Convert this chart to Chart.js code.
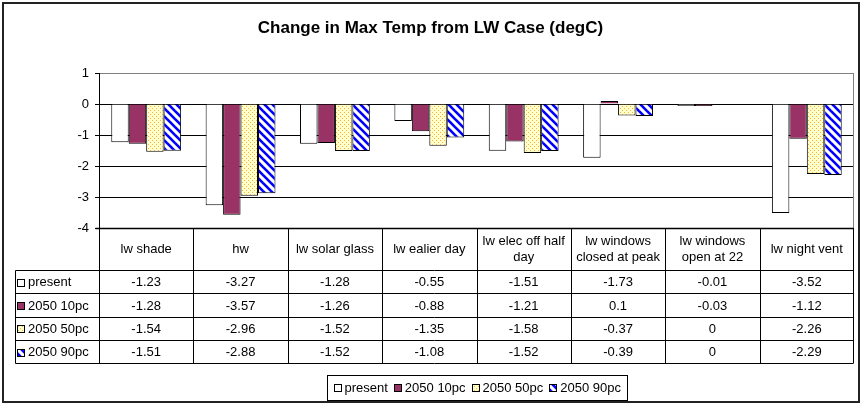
<!DOCTYPE html>
<html>
<head>
<meta charset="utf-8">
<script src="https://cdn.jsdelivr.net/npm/chart.js@4.4.1/dist/chart.umd.min.js"></script>
<style>
html, body { margin: 0; padding: 0; background: #fff; }
#wrap { width: 861px; height: 404px; }
</style>
</head>
<body>
<div id="wrap"><canvas id="maxTempChart" width="861" height="404"></canvas></div>
<script>
const categories = [['lw shade'], ['hw'], ['lw solar glass'], ['lw ealier day'], ['lw elec off half', 'day'], ['lw windows', 'closed at peak'], ['lw windows', 'open at 22'], ['lw night vent']];
const seriesNames = ['present', '2050 10pc', '2050 50pc', '2050 90pc'];
const present = [-1.23, -3.27, -1.28, -0.55, -1.51, -1.73, -0.01, -3.52];
const pc10 = [-1.28, -3.57, -1.26, -0.88, -1.21, 0.1, -0.03, -1.12];
const pc50 = [-1.54, -2.96, -1.52, -1.35, -1.58, -0.37, 0, -2.26];
const pc90 = [-1.51, -2.88, -1.52, -1.08, -1.52, -0.39, 0, -2.29];
const yMin = -4, yMax = 1;
const chartTitle = 'Change in Max Temp from LW Case (degC)';

const FONT = '"Liberation Sans", Arial, sans-serif';
Chart.defaults.font.family = FONT;
Chart.defaults.color = '#000';

// excel-ish fill patterns
function dotPattern() {
    const c = document.createElement('canvas');
    c.width = 4; c.height = 4;
    const g = c.getContext('2d');
    g.fillStyle = '#FFFFCC';
    g.fillRect(0, 0, 4, 4);
    g.fillStyle = '#FFB040';
    g.fillRect(0, 0, 1, 1);
    g.fillRect(2, 2, 1, 1);
    return g.createPattern(c, 'repeat');
}

function stripePattern() {
    const c = document.createElement('canvas');
    c.width = 8; c.height = 8;
    const g = c.getContext('2d');
    g.fillStyle = '#fff';
    g.fillRect(0, 0, 8, 8);
    g.strokeStyle = '#0000FF';
    g.lineWidth = 2.6;
    for (const k of [-8, 0, 8]) {
        g.beginPath();
        g.moveTo(k - 2, -2);
        g.lineTo(k + 10, 10);
        g.stroke();
    }
    return g.createPattern(c, 'repeat');
}

const fills = ['#FFFFFF', '#993366', dotPattern(), stripePattern()];
const seriesData = [present, pc10, pc50, pc90];

const ROW_HEAD = 42;
const ROW_H = 23.3;
const KEY_LEFT = 15;

function keySquare(g, x, y, fill) {
    g.fillStyle = fill;
    g.fillRect(x, y, 7, 7);
    g.strokeStyle = '#000';
    g.lineWidth = 1;
    g.strokeRect(x + 0.5, y + 0.5, 7, 7);
}

const tablePlugin = {
    id: 'excelTable',
    afterDraw(chart) {
        const g = chart.ctx;
        const area = chart.chartArea;
        const n = categories.length;
        const w = (area.right - area.left) / n;
        const top = area.bottom;
        const headBottom = top + ROW_HEAD;
        const bottom = headBottom + ROW_H * seriesNames.length;
        const L = Math.round(area.left) + 0.5;
        const R = Math.round(area.right) - 0.5;

        g.save();
        // plot right border (grey)
        g.strokeStyle = '#808080';
        g.lineWidth = 1;
        g.beginPath();
        g.moveTo(R, area.top);
        g.lineTo(R, bottom);
        g.stroke();

        // table grid
        g.strokeStyle = '#000';
        g.lineWidth = 1;
        g.beginPath();
        for (let i = 0; i <= n; i++) {
            const x = i === n ? R : Math.round(area.left + i * w) + 0.5;
            g.moveTo(x, top);
            g.lineTo(x, bottom);
        }
        for (let r = 0; r <= seriesNames.length; r++) {
            const y = Math.round(headBottom + r * ROW_H) + 0.5;
            g.moveTo(KEY_LEFT + 0.5, y);
            g.lineTo(R, y);
        }
        g.moveTo(KEY_LEFT + 0.5, Math.round(headBottom) + 0.5);
        g.lineTo(KEY_LEFT + 0.5, Math.round(bottom) + 0.5);
        g.stroke();
        // heavier line along the -4 axis / table top
        g.lineWidth = 1.5;
        g.beginPath();
        g.moveTo(L - 4, Math.round(top) + 0.5);
        g.lineTo(R, Math.round(top) + 0.5);
        g.stroke();

        // header labels
        g.fillStyle = '#000';
        g.font = '13px ' + FONT;
        g.textAlign = 'center';
        g.textBaseline = 'middle';
        const xs = chart.scales.x;
        categories.forEach((lines, i) => {
            const cx = xs.getPixelForValue(i);
            const lh = 16;
            const y0 = top + ROW_HEAD / 2 - (lines.length - 1) * lh / 2;
            lines.forEach((t, j) => g.fillText(t, cx, y0 + j * lh));
        });

        // data rows
        seriesNames.forEach((name, r) => {
            const cy = headBottom + r * ROW_H + ROW_H / 2 + 1;
            keySquare(g, KEY_LEFT + 2, Math.round(cy - 4), fills[r]);
            g.fillStyle = '#000';
            g.textAlign = 'left';
            g.fillText(name, KEY_LEFT + 13, cy);
            g.textAlign = 'center';
            seriesData[r].forEach((v, i) => {
                g.fillText(String(v), xs.getPixelForValue(i), cy);
            });
        });

        // title
        g.font = 'bold 17px ' + FONT;
        g.textAlign = 'center';
        g.fillText(chartTitle, chart.width / 2, 28);

        // legend
        g.font = '13px ' + FONT;
        const gap = 6, keyW = 7, keyGap = 4;
        const widths = seriesNames.map(s => keyW + keyGap + g.measureText(s).width);
        const total = widths.reduce((a, b) => a + b, 0) + gap * (seriesNames.length - 1);
        const legY = bottom + 24;
        const boxL = Math.round((area.left + area.right) / 2 - total / 2 - 6) + 0.5;
        const boxW = Math.round(total + 12);
        g.strokeStyle = '#000';
        g.lineWidth = 1;
        g.strokeRect(boxL, Math.round(legY - 12) + 0.5, boxW, 25);
        let x = boxL + 6;
        seriesNames.forEach((s, r) => {
            keySquare(g, Math.round(x), Math.round(legY - 3), fills[r]);
            g.fillStyle = '#000';
            g.textAlign = 'left';
            g.fillText(s, x + keyW + keyGap, legY + 1);
            x += widths[r] + gap;
        });

        // outer chart border
        g.strokeStyle = '#222';
        g.lineWidth = 2;
        g.strokeRect(3, 3, chart.width - 5, chart.height - 5);
        g.restore();
    }
};

const ctx = document.getElementById('maxTempChart').getContext('2d');
const maxTempChart = new Chart(ctx, {
    type: 'bar',
    data: {
        labels: categories,
        datasets: seriesNames.map((name, r) => ({
            label: name,
            data: seriesData[r],
            backgroundColor: fills[r],
            borderColor: '#000',
            borderWidth: 1,
            // excel still shows a hairline for the -0.01 / -0.03 bars
            minBarLength: r < 2 ? 2 : 0,
            categoryPercentage: 0.74,
            barPercentage: 1
        }))
    },
    options: {
        responsive: false,
        animation: false,
        layout: { padding: { left: 0, right: 7, top: 73, bottom: 176 } },
        plugins: {
            legend: { display: false },
            title: { display: false },
            tooltip: { enabled: false }
        },
        scales: {
            x: { display: false, offset: true },
            y: {
                min: yMin,
                max: yMax,
                ticks: { stepSize: 1, color: '#000', font: { size: 13 }, padding: 6 },
                grid: {
                    color: c => (c.tick && c.tick.value === yMax) ? '#808080' : '#000',
                    tickLength: 4,
                    tickColor: '#000'
                },
                border: { color: '#000' },
                afterFit: s => { s.width = 99; }
            }
        }
    },
    plugins: [tablePlugin]
});
</script>
</body>
</html>
